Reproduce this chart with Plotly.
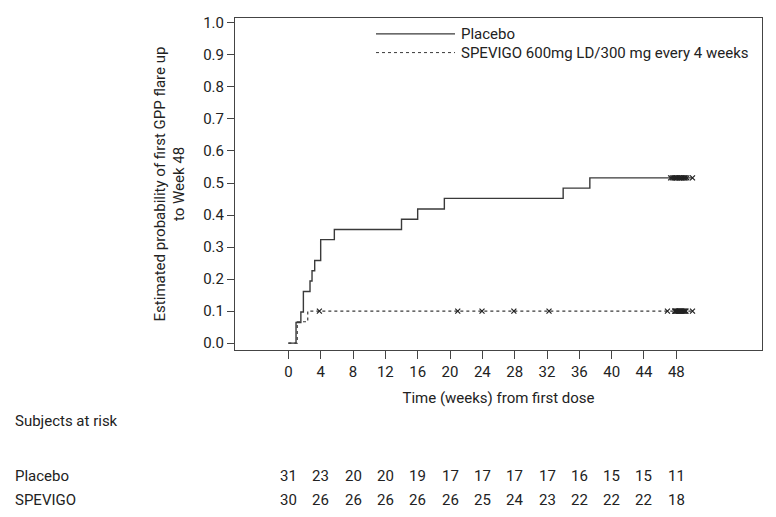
import plotly.graph_objects as go

# ---- data ----
placebo_t = [0, 0.95, 1.55, 1.86, 2.68, 2.93, 3.26, 4.0, 5.69, 14.0, 16.0, 19.3, 34.0, 37.3, 50.0]
placebo_p = [0.0, 0.0645, 0.097, 0.161, 0.194, 0.226, 0.258, 0.323, 0.355, 0.387, 0.419, 0.452, 0.484, 0.516, 0.516]
placebo_cens_t = [47.3, 47.5, 47.7, 47.9, 48.0, 48.1, 48.3, 48.4, 48.6, 48.7, 48.9, 49.0, 49.1, 49.3, 50.0]

spevigo_t = [0, 1.1, 2.4, 50.0]
spevigo_p = [0.0, 0.0667, 0.1, 0.1]
spevigo_cens_t = [3.84, 20.96, 23.96, 27.9, 32.25, 46.9, 47.8, 47.85, 47.9, 48.0, 48.1, 48.2,
                  48.3, 48.4, 48.5, 48.6, 48.7, 48.8, 48.9, 49.0, 49.1, 49.2, 50.0]

week_ticks = [0, 4, 8, 12, 16, 20, 24, 28, 32, 36, 40, 44, 48]
risk_placebo = [31, 23, 20, 20, 19, 17, 17, 17, 17, 16, 15, 15, 11]
risk_spevigo = [30, 26, 26, 26, 26, 26, 25, 24, 23, 22, 22, 22, 18]
y_ticks = [0.0, 0.1, 0.2, 0.3, 0.4, 0.5, 0.6, 0.7, 0.8, 0.9, 1.0]

legend_names = ["Placebo", "SPEVIGO 600mg LD/300 mg every 4 weeks"]
row_labels = ["Placebo", "SPEVIGO"]


def step_value(ts, ps, t):
    v = ps[0]
    for ti, pi in zip(ts, ps):
        if ti <= t:
            v = pi
    return v


FONT = "Roboto"
FS = 15
TXT = "#222222"
LINE = "#3a3a3a"

# plot box in page pixels (page has an 8px body margin)
L, T, PW, PH = 227, 6, 527, 336

fig = go.Figure()

fig.add_trace(go.Scatter(x=placebo_t, y=placebo_p, mode="lines", line_shape="hv",
                         line=dict(color=LINE, width=1.4), name=legend_names[0], showlegend=False))
fig.add_trace(go.Scatter(x=placebo_cens_t, y=[step_value(placebo_t, placebo_p, t) for t in placebo_cens_t],
                         mode="markers", marker=dict(symbol="x-thin", size=5, line=dict(color="#222", width=1.2)),
                         showlegend=False, hoverinfo="skip"))
fig.add_trace(go.Scatter(x=spevigo_t, y=spevigo_p, mode="lines", line_shape="hv",
                         line=dict(color=LINE, width=1.2, dash="3px,3px"), name=legend_names[1], showlegend=False))
fig.add_trace(go.Scatter(x=spevigo_cens_t, y=[step_value(spevigo_t, spevigo_p, t) for t in spevigo_cens_t],
                         mode="markers", marker=dict(symbol="x-thin", size=5, line=dict(color="#222", width=1.2)),
                         showlegend=False, hoverinfo="skip"))


def px_x(p):
    return (p - 8 - L) / PW


def px_y(p):
    return (T + PH - (p - 8)) / PH


# manual legend (reference pixel positions)
leg_y = [px_y(30), px_y(49)]
fig.add_shape(type="line", xref="paper", yref="paper", x0=px_x(376), x1=px_x(455),
              y0=leg_y[0], y1=leg_y[0], line=dict(color=LINE, width=1.2))
fig.add_shape(type="line", xref="paper", yref="paper", x0=px_x(376), x1=px_x(455),
              y0=leg_y[1], y1=leg_y[1], line=dict(color=LINE, width=1.0, dash="3px,3px"))
for name, yy in zip(legend_names, leg_y):
    fig.add_annotation(xref="paper", yref="paper", x=px_x(459), y=yy, text=name,
                       showarrow=False, xanchor="left", yanchor="middle",
                       font=dict(family=FONT, size=FS, color=TXT))

# risk table
fig.add_annotation(xref="paper", yref="paper", x=px_x(13), y=px_y(422),
                   text="Subjects at risk", showarrow=False, xanchor="left", yanchor="middle",
                   font=dict(family=FONT, size=FS, color=TXT))
for lab, row, ypix in zip(row_labels, [risk_placebo, risk_spevigo], [478, 502]):
    yy = px_y(ypix)
    fig.add_annotation(xref="paper", yref="paper", x=px_x(13), y=yy, text=lab,
                       showarrow=False, xanchor="left", yanchor="middle",
                       font=dict(family=FONT, size=FS, color=TXT))
    for wk, n in zip(week_ticks, row):
        fig.add_annotation(xref="x", yref="paper", x=wk, y=yy, text=str(n), showarrow=False,
                           xanchor="center", yanchor="middle",
                           font=dict(family=FONT, size=FS, color=TXT))

fig.update_layout(
    width=776, height=517,
    margin=dict(l=L, r=776 - L - PW, t=T, b=517 - T - PH),
    plot_bgcolor="white", paper_bgcolor="white",
    font=dict(family=FONT, size=FS, color=TXT),
    showlegend=False,
    xaxis=dict(range=[-6.6, 58.6], tickvals=week_ticks, ticktext=[str(w) for w in week_ticks],
               ticks="outside", ticklen=8, tickcolor="#444", showline=True, linecolor="#444",
               linewidth=1, mirror=True, showgrid=False, zeroline=False,
               tickfont=dict(size=FS),
               title=dict(text="Time (weeks) from first dose", standoff=12, font=dict(size=FS))),
    yaxis=dict(range=[-0.0216, 1.0154], tickvals=y_ticks, ticktext=[f"{v:.1f}" for v in y_ticks],
               ticks="outside", ticklen=7, tickcolor="#444", showline=True, linecolor="#444",
               linewidth=1, mirror=True, showgrid=False, zeroline=False,
               tickfont=dict(size=FS),
               title=dict(text="Estimated probability of first GPP flare up<br>to Week 48",
                          standoff=14, font=dict(size=FS))),
)

fig.write_html("out.html")
